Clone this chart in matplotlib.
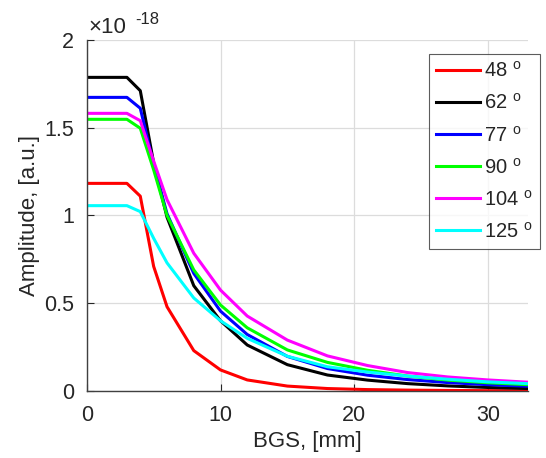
import numpy as np
import matplotlib
matplotlib.use("Agg")
import matplotlib.pyplot as plt
from matplotlib.ticker import FuncFormatter

plt.rcParams['font.family'] = ['Liberation Sans', 'DejaVu Sans']
plt.rcParams['mathtext.fontset'] = 'custom'
plt.rcParams['mathtext.rm'] = 'Liberation Sans'
plt.rcParams['mathtext.it'] = 'Liberation Sans'
plt.rcParams['axes.unicode_minus'] = False

# BGS positions [mm]
bgs = [0, 3, 4, 5, 6, 8, 10, 12, 15, 18, 21, 24, 27, 30, 33]

# Amplitudes in units of 1e-18
amp_48 = [1.183, 1.183, 1.11, 0.71, 0.48, 0.23, 0.12, 0.063, 0.028, 0.014, 0.008, 0.005, 0.003, 0.002, 0.001]
amp_62 = [1.787, 1.787, 1.711, 1.30, 0.99, 0.60, 0.40, 0.262, 0.150, 0.091, 0.062, 0.042, 0.029, 0.020, 0.014]
amp_77 = [1.673, 1.673, 1.611, 1.29, 1.01, 0.67, 0.455, 0.322, 0.197, 0.128, 0.090, 0.065, 0.048, 0.036, 0.027]
amp_90 = [1.548, 1.548, 1.497, 1.26, 1.00, 0.69, 0.49, 0.360, 0.234, 0.163, 0.118, 0.085, 0.062, 0.047, 0.036]
amp_104 = [1.582, 1.582, 1.54, 1.31, 1.09, 0.785, 0.575, 0.427, 0.290, 0.200, 0.145, 0.105, 0.080, 0.063, 0.050]
amp_125 = [1.056, 1.056, 1.022, 0.87, 0.73, 0.53, 0.40, 0.300, 0.198, 0.138, 0.108, 0.085, 0.067, 0.052, 0.042]

labels = ['48', '62', '77', '90', '104', '125']
series = [amp_48, amp_62, amp_77, amp_90, amp_104, amp_125]
colors = ['#ff0000', '#000000', '#0000ff', '#00ff00', '#ff00ff', '#00ffff']
scale = 1e-18

fig = plt.figure(figsize=(5.46, 4.58), dpi=100)
ax = fig.add_axes([0.159, 0.1463, 0.808, 0.7664])

for lab, s, c in zip(labels, series, colors):
    ax.plot(bgs, np.array(s) * scale, color=c, lw=2.2, label=lab + r' $^{\rm o}$')

ax.set_xlim(0, 33)
ax.set_ylim(0, 2 * scale)
ax.set_xticks([0, 10, 20, 30])
ax.set_yticks(np.array([0, 0.5, 1, 1.5, 2]) * scale)
ax.yaxis.set_major_formatter(FuncFormatter(lambda v, p: '%g' % round(v / scale, 3)))

ax.grid(True, color='#dcdcdc', lw=0.9)
ax.set_axisbelow(True)
for side in ['top', 'right']:
    ax.spines[side].set_visible(False)
for side in ['left', 'bottom']:
    ax.spines[side].set_color('#404040')
    ax.spines[side].set_linewidth(1.0)
ax.tick_params(direction='in', length=5, labelsize=15.5, colors='#262626')
ax.tick_params(axis='x', pad=10)
ax.tick_params(axis='y', pad=9)
ax.set_xlabel('BGS, [mm]', fontsize=16, color='#262626', labelpad=4)
ax.set_ylabel('Amplitude, [a.u.]', fontsize=16, color='#262626', labelpad=3)

# exponent label
fig.text(88 / 546, 1 - 33 / 458, '\u00d710', fontsize=16, color='#262626', ha='left', va='baseline')
fig.text(135 / 546, 1 - 24 / 458, '-18', fontsize=12, color='#262626', ha='left', va='baseline')

leg = ax.legend(loc='upper right', bbox_to_anchor=(540 / 546, 1 - 54 / 458), bbox_transform=fig.transFigure,
                fontsize=14.5, frameon=True, fancybox=False, edgecolor='#333333',
                handlelength=2.2, handletextpad=0.2, labelspacing=0.6, borderpad=0.35,
                borderaxespad=0, handleheight=0.7)
leg.get_frame().set_linewidth(0.8)
for t in leg.get_texts():
    t.set_color('#262626')

fig.savefig('out.png', dpi=100)
